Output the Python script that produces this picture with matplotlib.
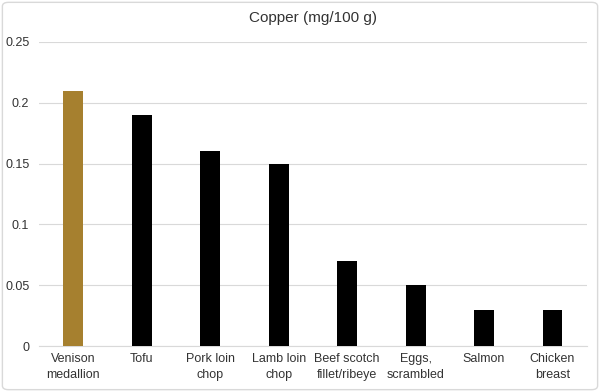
import matplotlib
matplotlib.use("Agg")
import matplotlib.pyplot as plt
from matplotlib.patches import FancyBboxPatch

categories = ["Venison\nmedallion", "Tofu", "Pork loin\nchop", "Lamb loin\nchop",
              "Beef scotch\nfillet/ribeye", "Eggs,\nscrambled", "Salmon", "Chicken\nbreast"]
values = [0.21, 0.19, 0.16, 0.15, 0.07, 0.05, 0.03, 0.03]
colors = ["#A6802F"] + ["#000000"] * 7
yticks = [0, 0.05, 0.1, 0.15, 0.2, 0.25]
ytick_labels = ["0", "0.05", "0.1", "0.15", "0.2", "0.25"]

plt.rcParams["font.family"] = ["Liberation Sans", "DejaVu Sans"]

fig = plt.figure(figsize=(6, 3.92), dpi=100)
ax = fig.add_axes([0.065, 0.117, 0.913, 0.776])

x = range(len(categories))
ax.bar(x, values, width=0.29, color=colors, zorder=3)
ax.set_xlim(-0.5, len(categories) - 0.5)
ax.set_ylim(0, 0.25)
ax.set_yticks(yticks)
ax.set_yticklabels(ytick_labels)
ax.set_xticks(list(x))
ax.set_xticklabels(categories, linespacing=1.4)
ax.tick_params(axis="both", length=0, labelsize=9, colors="#333333")
ax.tick_params(axis="x", pad=5)
ax.tick_params(axis="y", pad=7)
ax.grid(axis="y", color="#D9D9D9", linewidth=0.8, zorder=0)
for s in ["top", "right", "left"]:
    ax.spines[s].set_visible(False)
ax.spines["bottom"].set_color("#D9D9D9")
ax.spines["bottom"].set_linewidth(0.8)
ax.set_title("Copper (mg/100 g)", fontsize=11, color="#333333", pad=14)

border = FancyBboxPatch((0.004, 0.006), 0.992, 0.988, boxstyle="round,pad=0,rounding_size=0.01",
                        transform=fig.transFigure, fill=False, edgecolor="#D9D9D9", linewidth=1)
fig.patches.append(border)

fig.savefig("out.png", dpi=100)
